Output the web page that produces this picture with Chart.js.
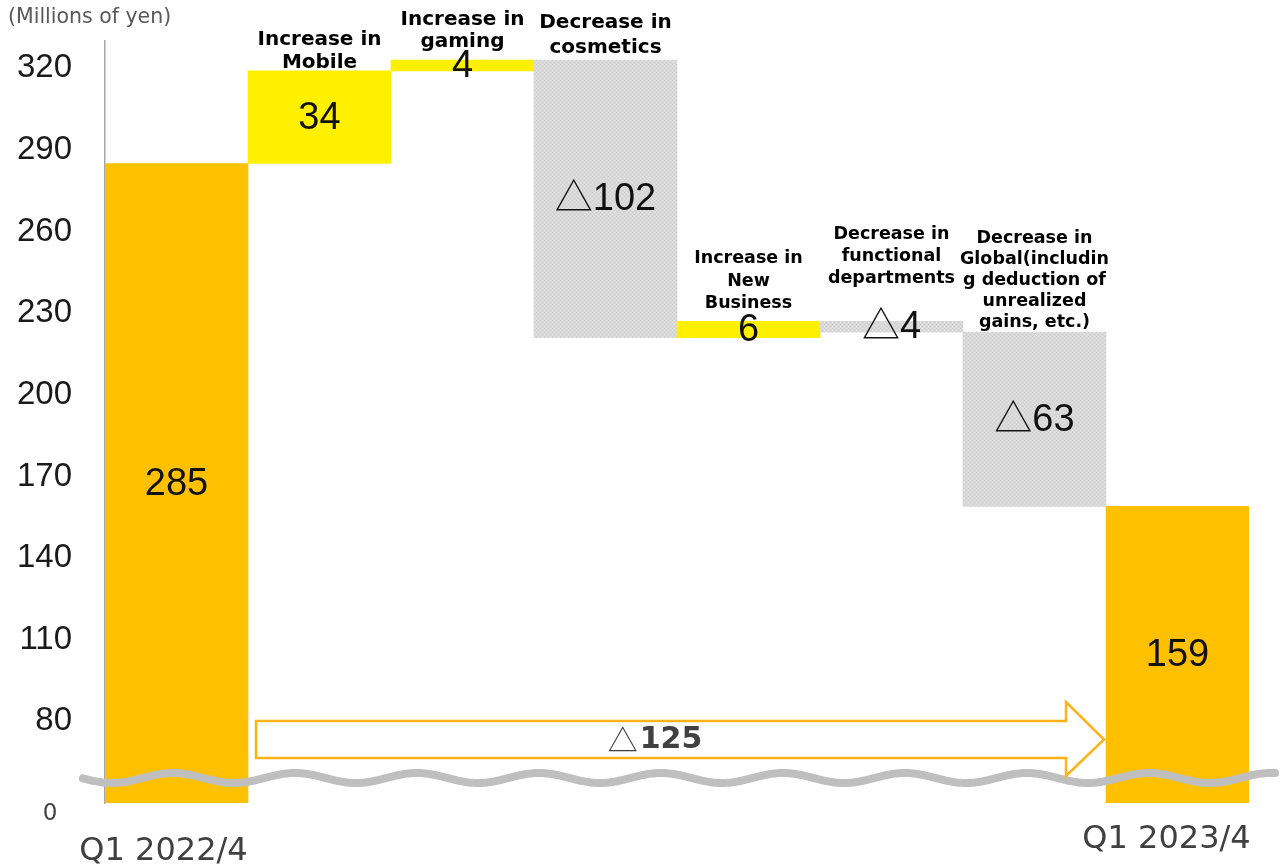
<!DOCTYPE html>
<html><head><meta charset="utf-8">
<script src="https://cdn.jsdelivr.net/npm/chart.js@4"></script>
<style>html,body{margin:0;padding:0;background:#fff}#wrap{width:1282px;height:866px;position:relative}</style>
</head><body><div id="wrap"><canvas id="c" width="1282" height="866"></canvas></div>
<script>
// ---- data ----
const categories = ['Q1 2022/4','Increase in Mobile','Increase in gaming','Decrease in cosmetics','Increase in New Business','Decrease in functional departments','Decrease in Global(including deduction of unrealized gains, etc.)','Q1 2023/4'];
const axisFloor = 50; // broken axis: shown as 0
const barStart = [50, 285, 319, 221, 221, 223, 159, 50];
const barEnd   = [285, 319, 323, 323, 227, 227, 223, 159];
const barKind  = ['total','up','up','down','up','down','down','total'];
const valueLabels = ['285','34','4','△102','6','△4','△63','159'];
const yTicks = [80,110,140,170,200,230,260,290,320];
const captionLines = [[], ['Increase in','Mobile'], ['Increase in','gaming'], ['Decrease in','cosmetics'],
  ['Increase in','New','Business'], ['Decrease in','functional','departments'],
  ['Decrease in','Global(includin','g deduction of','unrealized','gains, etc.)'], []];
const totalChangeLabel = '125';
const unitLabel = '(Millions of yen)';
const xEndLabels = ['Q1 2022/4','Q1 2023/4'];

// ---- layout / style (not data) ----
const captionStyle = [null,
  {size:20, last:68, gap:23}, {size:20, last:47, gap:22}, {size:20, last:53, gap:25},
  {size:17.5, last:308, gap:22.5}, {size:17.5, last:283, gap:22}, {size:17.5, last:327, gap:21}, null];
const colors = {total:'#FFC000', up:'#FFF000'};

const canvas = document.getElementById('c');
const mctx = canvas.getContext('2d');
function dotPattern(){
  const p = document.createElement('canvas'); p.width=4; p.height=4;
  const g = p.getContext('2d');
  g.fillStyle='#D9D9D9'; g.fillRect(0,0,4,4);
  g.fillStyle='#CFCFCF'; g.fillRect(0,0,1,1); g.fillRect(2,2,1,1);
  g.fillStyle='#E2E2E2'; g.fillRect(2,0,1,1); g.fillRect(0,2,1,1);
  return mctx.createPattern(p,'repeat');
}
const grayPat = dotPattern();
const barColors = barKind.map(k => k==='down' ? grayPat : colors[k]);

const overlay = {
  id:'overlay',
  afterDraw(chart){
    const ctx = chart.ctx, meta = chart.getDatasetMeta(0);
    ctx.save();
    // value labels
    meta.data.forEach((bar,i)=>{
      const cy = (bar.y + bar.base)/2;
      ctx.font = '38px "Liberation Sans", "Noto Sans CJK JP", sans-serif';
      ctx.textAlign='center'; ctx.textBaseline='middle'; ctx.fillStyle='#111';
      ctx.fillText(valueLabels[i], bar.x, cy+1);
    });
    // captions
    meta.data.forEach((bar,i)=>{
      const st = captionStyle[i]; const lines = captionLines[i];
      if(!st) return;
      ctx.font = 'bold '+st.size+'px "DejaVu Sans", Verdana, sans-serif';
      ctx.textAlign='center'; ctx.textBaseline='alphabetic'; ctx.fillStyle='#000';
      lines.forEach((t,k)=>{
        ctx.fillText(t, bar.x, st.last - (lines.length-1-k)*st.gap);
      });
    });
    // wave break
    ctx.beginPath();
    for(let x=83; x<=1275; x+=2){
      const yy = 778 - 5*Math.cos(2*Math.PI*(x-173)/122);
      if(x===83) ctx.moveTo(x,yy); else ctx.lineTo(x,yy);
    }
    ctx.strokeStyle='#BFBFBF'; ctx.lineWidth=8; ctx.lineCap='round'; ctx.stroke();
    // arrow
    const x0 = meta.data[0].x + meta.data[0].width/2 + 8;
    const xt = meta.data[7].x - meta.data[7].width/2 - 2;
    const bT=721, bB=758, hT=702, hB=776, hx = xt-38;
    ctx.beginPath();
    ctx.moveTo(x0,bT); ctx.lineTo(hx,bT); ctx.lineTo(hx,hT); ctx.lineTo(xt,(bT+bB)/2);
    ctx.lineTo(hx,hB); ctx.lineTo(hx,bB); ctx.lineTo(x0,bB); ctx.closePath();
    ctx.fillStyle='#fff'; ctx.fill();
    ctx.strokeStyle='#FFB318'; ctx.lineWidth=2.5; ctx.lineJoin='miter'; ctx.stroke();
    // total change label
    ctx.textBaseline='middle'; ctx.textAlign='left';
    ctx.font='30px "Noto Sans CJK JP", sans-serif';
    const tw = ctx.measureText('△').width;
    ctx.font='bold 30px "DejaVu Sans", Verdana, sans-serif';
    const nw = ctx.measureText(totalChangeLabel).width;
    let sx = 655 - (tw+nw+2)/2;
    ctx.fillStyle='#404040';
    ctx.font='30px "Noto Sans CJK JP", sans-serif';
    ctx.fillText('△', sx, 740);
    ctx.font='bold 30px "DejaVu Sans", Verdana, sans-serif';
    ctx.fillText(totalChangeLabel, sx+tw+2, 740);
    // x end labels
    ctx.font='32px "DejaVu Sans", Verdana, sans-serif';
    ctx.textAlign='center'; ctx.textBaseline='alphabetic'; ctx.fillStyle='#404040';
    ctx.fillText(xEndLabels[0], meta.data[0].x - 13, 860);
    ctx.fillText(xEndLabels[1], meta.data[7].x - 11, 848);
    // zero label & unit
    ctx.font='23px "DejaVu Sans", Verdana, sans-serif';
    ctx.textBaseline='middle';
    ctx.fillText('0', 50, 814);
    ctx.font='20.5px "DejaVu Sans", Verdana, sans-serif';
    ctx.textAlign='left'; ctx.fillStyle='#595959';
    ctx.fillText(unitLabel, 8, 18);
    ctx.restore();
  }
};

new Chart(canvas, {
  type:'bar',
  data:{ labels: categories, datasets:[{
    data: barStart.map((s,i)=>[s, barEnd[i]]),
    backgroundColor: barColors, borderWidth:0,
    barPercentage:1, categoryPercentage:1
  }]},
  options:{
    responsive:false, animation:false,
    layout:{padding:{top:41, right:33, bottom:63, left:0}},
    plugins:{legend:{display:false}, tooltip:{enabled:false}},
    scales:{
      x:{display:false},
      y:{min:axisFloor, max:330,
        afterBuildTicks: s => { s.ticks = yTicks.map(v=>({value:v})); },
        afterFit: s => { s.width = 105; s.paddingTop = 0; s.paddingBottom = 0; },
        grid:{display:false, drawTicks:false},
        border:{display:true, color:'#A6A6A6', width:1.5},
        ticks:{padding:33, color:'#1a1a1a', font:{family:'"Liberation Sans", Arial, sans-serif', size:33}}
      }
    }
  },
  plugins:[overlay]
});
</script></body></html>
